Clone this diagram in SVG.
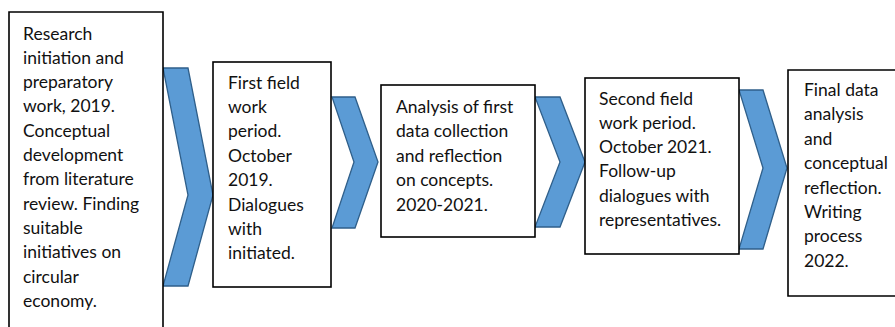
<svg xmlns="http://www.w3.org/2000/svg" width="895" height="327" viewBox="0 0 895 327">
  <style>
    .box { fill: #ffffff; stroke: #000000; stroke-width: 1.6; }
    .chev { fill: #5b9bd5; stroke: #2f5f8a; stroke-width: 1.3; stroke-linejoin: miter; }
    .label { font-family: Lato, "Liberation Sans", sans-serif; font-size: 17.5px; fill: #111111; }
  </style>
  <rect width="895" height="327" fill="#ffffff"/>

  <!-- process arrows between stages -->
  <g id="connectors">
    <polygon class="chev" points="163,68 188,68 213,195 188,286 163,286 188,195"/>
    <polygon class="chev" points="332,97 355,97 378,162 355,228 332,228 354,162"/>
    <polygon class="chev" points="535,97 560,97 585,162 560,227 535,227 560,162"/>
    <polygon class="chev" points="739,90 763,90 787,168 763,249 739,249 763,168"/>
  </g>

  <g id="stage1">
    <path class="box" d="M9,330 V12 H163 V330"/>
    <text class="label">
      <tspan x="23" y="39.5">Research</tspan>
      <tspan x="23" y="63.8">initiation and</tspan>
      <tspan x="23" y="88.1">preparatory</tspan>
      <tspan x="23" y="112.4">work, 2019.</tspan>
      <tspan x="23" y="136.7">Conceptual</tspan>
      <tspan x="23" y="161">development</tspan>
      <tspan x="23" y="185.3">from literature</tspan>
      <tspan x="23" y="209.6">review. Finding</tspan>
      <tspan x="23" y="233.9">suitable</tspan>
      <tspan x="23" y="258.2">initiatives on</tspan>
      <tspan x="23" y="282.5">circular</tspan>
      <tspan x="23" y="306.8">economy.</tspan>
    </text>
  </g>

  <g id="stage2">
    <rect class="box" x="213" y="62" width="118" height="225"/>
    <text class="label">
      <tspan x="228" y="88.5">First field</tspan>
      <tspan x="228" y="112.9">work</tspan>
      <tspan x="228" y="137.3">period.</tspan>
      <tspan x="228" y="161.7">October</tspan>
      <tspan x="228" y="186.1">2019.</tspan>
      <tspan x="228" y="210.5">Dialogues</tspan>
      <tspan x="228" y="234.9">with</tspan>
      <tspan x="228" y="259.3">initiated.</tspan>
    </text>
  </g>

  <g id="stage3">
    <rect class="box" x="381" y="85" width="154" height="152"/>
    <text class="label">
      <tspan x="396" y="112.5">Analysis of first</tspan>
      <tspan x="396" y="137">data collection</tspan>
      <tspan x="396" y="161.5">and reflection</tspan>
      <tspan x="396" y="186">on concepts.</tspan>
      <tspan x="396" y="210.5">2020-2021.</tspan>
    </text>
  </g>

  <g id="stage4">
    <rect class="box" x="585" y="78" width="154" height="176"/>
    <text class="label">
      <tspan x="599" y="104.5">Second field</tspan>
      <tspan x="599" y="128.8">work period.</tspan>
      <tspan x="599" y="153.1">October 2021.</tspan>
      <tspan x="599" y="177.4">Follow-up</tspan>
      <tspan x="599" y="201.7">dialogues with</tspan>
      <tspan x="599" y="226">representatives.</tspan>
    </text>
  </g>

  <g id="stage5">
    <path class="box" d="M900,70 H788 V296 H900"/>
    <text class="label">
      <tspan x="804" y="96">Final data</tspan>
      <tspan x="804" y="120.4">analysis</tspan>
      <tspan x="804" y="144.8">and</tspan>
      <tspan x="804" y="169.2">conceptual</tspan>
      <tspan x="804" y="193.6">reflection.</tspan>
      <tspan x="804" y="218">Writing</tspan>
      <tspan x="804" y="242.4">process</tspan>
      <tspan x="804" y="266.8">2022.</tspan>
    </text>
  </g>
</svg>
